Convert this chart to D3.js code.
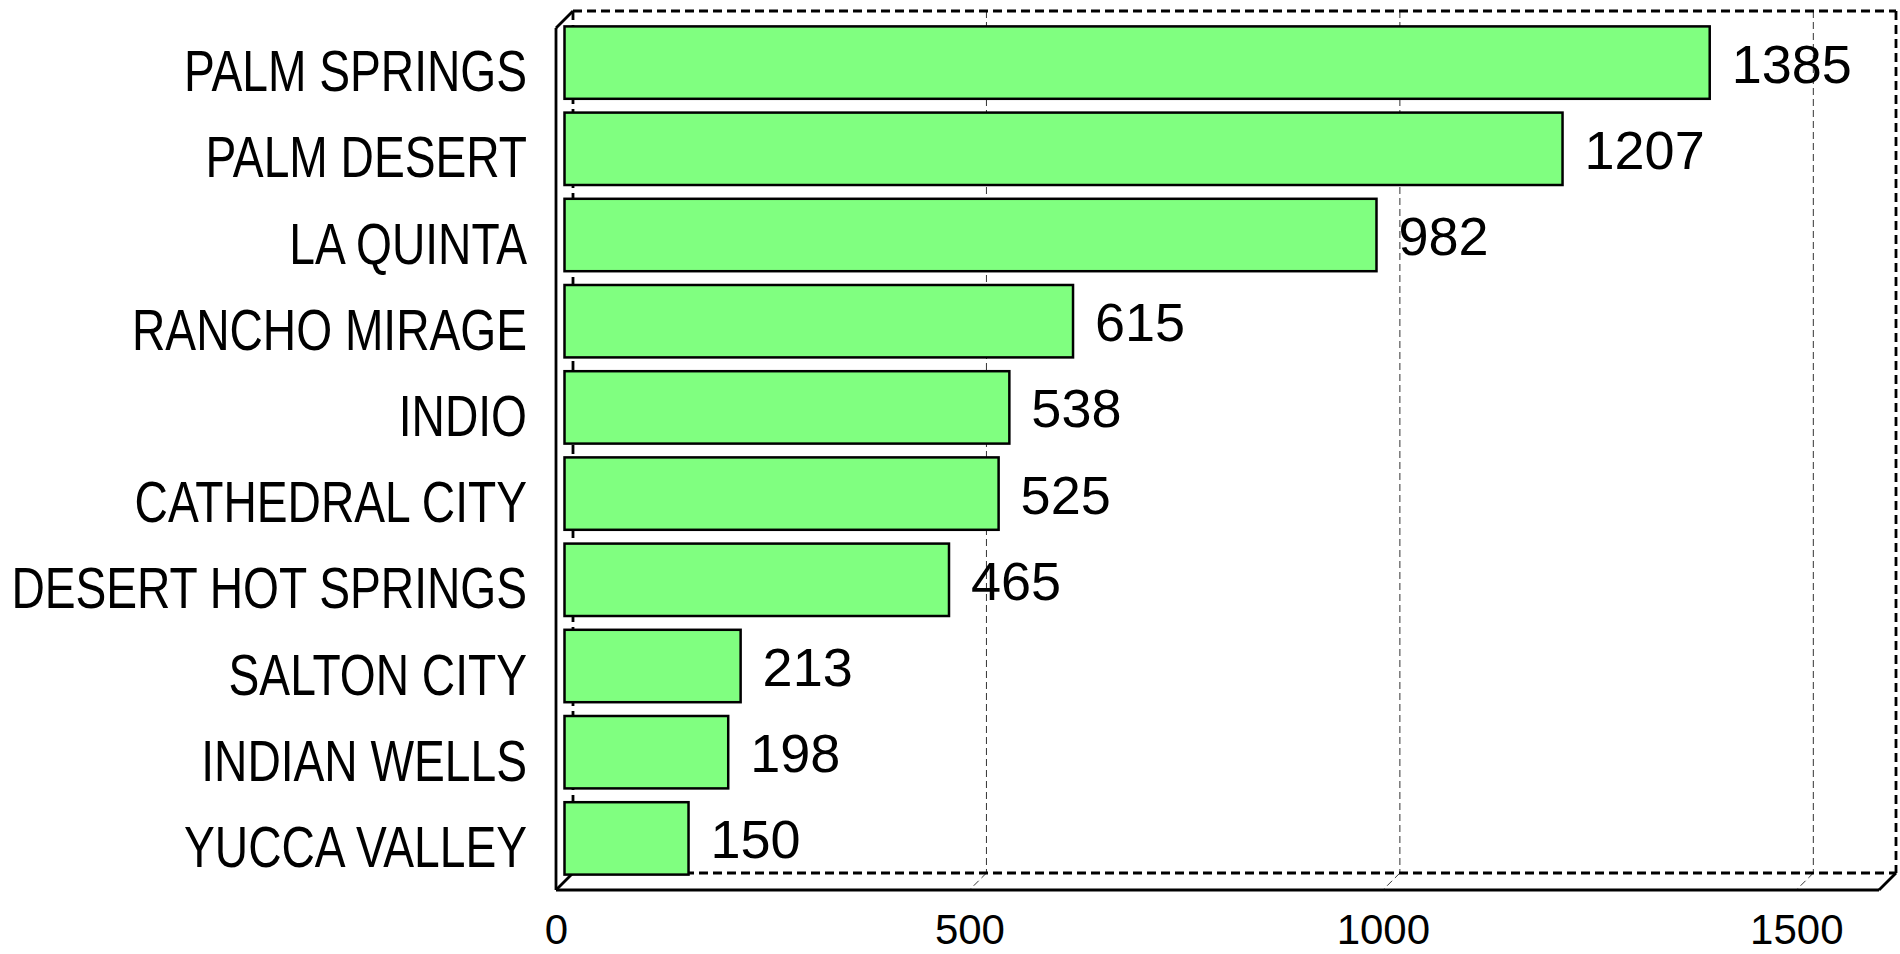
<!DOCTYPE html>
<html>
<head>
<meta charset="utf-8">
<script src="https://cdn.jsdelivr.net/npm/d3@7"></script>
<style>
  html, body { margin: 0; padding: 0; background: #fff; }
  svg { display: block; }
  text { font-family: "Liberation Sans", Arial, sans-serif; fill: #000; }
</style>
</head>
<body>
<svg id="chart" width="1900" height="954"></svg>
<script>
const categories = ["PALM SPRINGS", "PALM DESERT", "LA QUINTA", "RANCHO MIRAGE", "INDIO",
  "CATHEDRAL CITY", "DESERT HOT SPRINGS", "SALTON CITY", "INDIAN WELLS", "YUCCA VALLEY"];
const values = [1385, 1207, 982, 615, 538, 525, 465, 213, 198, 150];
const tickValues = [0, 500, 1000, 1500];
const xMax = 1600;

const svg = d3.select("#chart");
const depth = 17;
const back = { left: 573, right: 1896, top: 11, bottom: 873 };

const xBack = d3.scaleLinear().domain([0, xMax]).range([back.left, back.right]);
const xFront = d3.scaleLinear().domain([0, xMax]).range([back.left - depth, back.right - depth]);
const xMid = d3.scaleLinear().domain([0, xMax]).range([back.left - depth / 2, back.right - depth / 2]);
const yMid = d3.scaleBand().domain(categories)
  .range([back.top + depth / 2, back.bottom + depth / 2])
  .paddingInner(0.16).paddingOuter(0.08);

const frameDash = "9,5";

// grid lines on back wall
const grid = svg.append("g");
grid.selectAll("line.v").data(tickValues.filter(d => d > 0)).join("line")
  .attr("x1", d => xBack(d)).attr("x2", d => xBack(d))
  .attr("y1", back.top).attr("y2", back.bottom)
  .attr("stroke", "#333").attr("stroke-width", 1).attr("stroke-dasharray", "7,4");
grid.selectAll("line.f").data(tickValues.filter(d => d > 0)).join("line")
  .attr("x1", d => xBack(d)).attr("x2", d => xFront(d))
  .attr("y1", back.bottom).attr("y2", back.bottom + depth)
  .attr("stroke", "#333").attr("stroke-width", 1).attr("stroke-dasharray", "7,4");

// back wall frame (dashed)
const bf = svg.append("g").attr("fill", "none").attr("stroke", "#000")
  .attr("stroke-width", 2.8).attr("stroke-dasharray", frameDash);
bf.append("line").attr("x1", back.left).attr("x2", back.right).attr("y1", back.top).attr("y2", back.top);
bf.append("line").attr("x1", back.right).attr("x2", back.right).attr("y1", back.top).attr("y2", back.bottom);
bf.append("line").attr("x1", back.left).attr("x2", back.right).attr("y1", back.bottom).attr("y2", back.bottom);
bf.append("line").attr("x1", back.left).attr("x2", back.left).attr("y1", back.top).attr("y2", back.bottom);

// front frame (solid)
const ff = svg.append("g").attr("fill", "none").attr("stroke", "#000").attr("stroke-width", 2.8);
ff.append("line").attr("x1", xFront(0)).attr("x2", xFront(0))
  .attr("y1", back.top + depth).attr("y2", back.bottom + depth);
ff.append("line").attr("x1", xFront(0)).attr("x2", xFront(xMax))
  .attr("y1", back.bottom + depth).attr("y2", back.bottom + depth);
ff.append("line").attr("x1", xFront(0)).attr("x2", xBack(0))
  .attr("y1", back.top + depth).attr("y2", back.top);
ff.append("line").attr("x1", xFront(0)).attr("x2", xBack(0))
  .attr("y1", back.bottom + depth).attr("y2", back.bottom);
ff.append("line").attr("x1", xFront(xMax)).attr("x2", xBack(xMax))
  .attr("y1", back.bottom + depth).attr("y2", back.bottom);

// bars
svg.append("g").selectAll("rect").data(values).join("rect")
  .attr("x", xMid(0))
  .attr("y", (d, i) => yMid(categories[i]))
  .attr("width", d => xMid(d) - xMid(0))
  .attr("height", yMid.bandwidth())
  .attr("fill", "#80FF80")
  .attr("stroke", "#000")
  .attr("stroke-width", 2.5);

// value labels
svg.append("g").selectAll("text").data(values).join("text")
  .attr("x", d => xMid(d) + 22)
  .attr("y", (d, i) => yMid(categories[i]) + yMid.bandwidth() / 2 + 20)
  .attr("font-size", 54)
  .text(d => d);

// category labels (condensed)
svg.append("g").selectAll("g").data(categories).join("g")
  .attr("transform", d => `translate(527,${yMid(d) + yMid.bandwidth() / 2 + depth / 2 + 20}) scale(0.81,1)`)
  .append("text")
  .attr("text-anchor", "end")
  .attr("font-size", 57)
  .text(d => d);

// x axis labels
const axis = d3.axisBottom(xFront).tickValues(tickValues).tickSize(0).tickPadding(24).tickFormat(d3.format("d"));
const ax = svg.append("g").attr("transform", `translate(0,${back.bottom + depth})`).call(axis);
ax.select(".domain").remove();
ax.selectAll("text").attr("font-size", 42).attr("font-family", "Liberation Sans, Arial, sans-serif").attr("fill", "#000");
</script>
</body>
</html>
